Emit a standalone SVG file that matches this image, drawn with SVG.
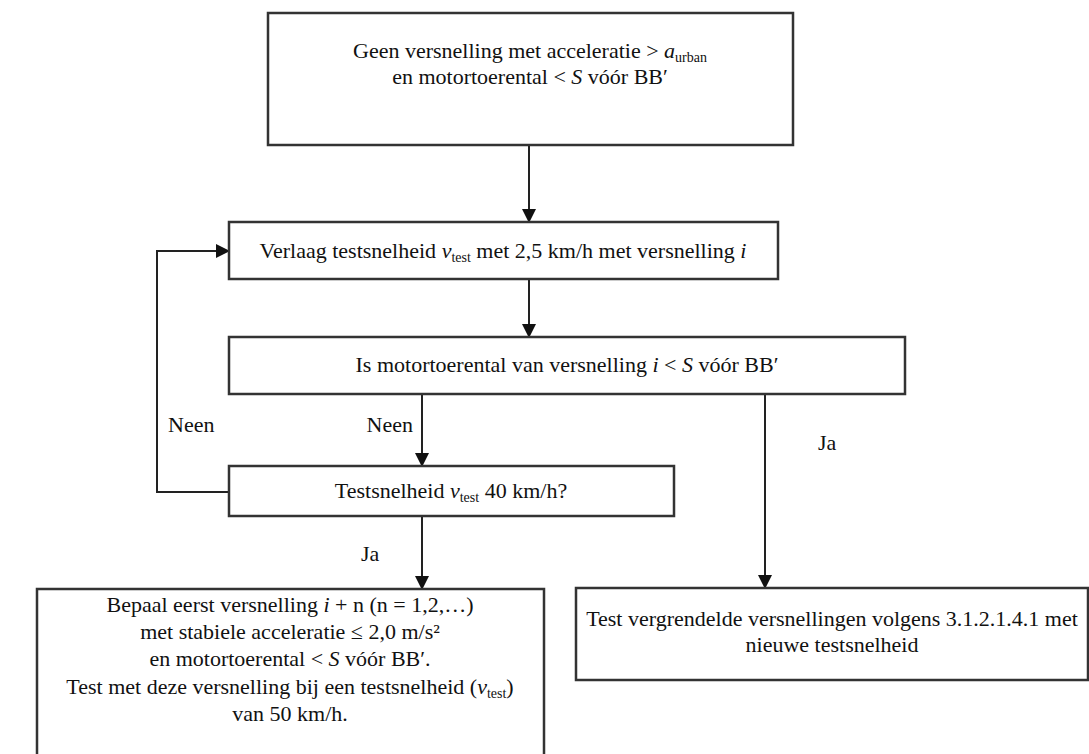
<svg xmlns="http://www.w3.org/2000/svg" width="1089" height="754" viewBox="0 0 1089 754">
<style>
.box{fill:#fff;stroke:#333;stroke-width:2.5}
.t{font-family:"Liberation Serif","Times New Roman",serif;font-size:22px;fill:#111}
.mid{text-anchor:middle}
.sub{font-size:14px}
.it{font-style:italic}
.ln{fill:none;stroke:#222;stroke-width:2}
</style>
<defs>
<marker id="ah" markerUnits="userSpaceOnUse" markerWidth="14" markerHeight="14" refX="13" refY="7" orient="auto">
<path d="M0,0 L14,7 L0,14 Z" fill="#111"/>
</marker>
</defs>
<g id="connectors">
<line class="ln" x1="529" y1="145" x2="529" y2="222" marker-end="url(#ah)"/>
<line class="ln" x1="529" y1="279" x2="529" y2="337" marker-end="url(#ah)"/>
<line class="ln" x1="422" y1="394" x2="422" y2="466" marker-end="url(#ah)"/>
<line class="ln" x1="422" y1="516" x2="422" y2="589" marker-end="url(#ah)"/>
<line class="ln" x1="765" y1="394" x2="765" y2="588" marker-end="url(#ah)"/>
<polyline class="ln" points="229,492 157,492 157,251 229,251" marker-end="url(#ah)"/>
<text class="t" x="413" y="432" text-anchor="end">Neen</text>
<text class="t" x="168" y="432">Neen</text>
<text class="t" x="361" y="561">Ja</text>
<text class="t" x="818" y="450">Ja</text>
</g>
<g id="n1">
<rect class="box" x="268" y="13" width="525" height="132"/>
<text class="t mid" x="530" y="58">Geen versnelling met acceleratie &gt; <tspan class="it">a</tspan><tspan class="sub" dy="4">urban</tspan></text>
<text class="t mid" x="530" y="84">en motortoerental &lt; <tspan class="it">S</tspan> vóór BB′</text>
</g>
<g id="n2">
<rect class="box" x="229" y="222" width="549" height="57"/>
<text class="t mid" x="503" y="258">Verlaag testsnelheid <tspan class="it">v</tspan><tspan class="sub" dy="4">test</tspan><tspan dy="-4"> met 2,5 km/h met versnelling </tspan><tspan class="it">i</tspan></text>
</g>
<g id="n3">
<rect class="box" x="229" y="337" width="676" height="57"/>
<text class="t mid" x="567" y="372">Is motortoerental van versnelling <tspan class="it">i</tspan> &lt; <tspan class="it">S</tspan> vóór BB′</text>
</g>
<g id="n4">
<rect class="box" x="229" y="466" width="445" height="50"/>
<text class="t mid" x="451" y="498">Testsnelheid <tspan class="it">v</tspan><tspan class="sub" dy="4">test</tspan><tspan dy="-4"> 40 km/h?</tspan></text>
</g>
<g id="n5">
<rect class="box" x="37" y="589" width="507" height="180"/>
<text class="t mid" x="290" y="612">Bepaal eerst versnelling <tspan class="it">i</tspan> + n (n = 1,2,…)</text>
<text class="t mid" x="290" y="639">met stabiele acceleratie ≤ 2,0 m/s²</text>
<text class="t mid" x="290" y="666">en motortoerental &lt; <tspan class="it">S</tspan> vóór BB′.</text>
<text class="t mid" x="290" y="694">Test met deze versnelling bij een testsnelheid (<tspan class="it">v</tspan><tspan class="sub" dy="4">test</tspan><tspan dy="-4">)</tspan></text>
<text class="t mid" x="290" y="721">van 50 km/h.</text>
</g>
<g id="n6">
<rect class="box" x="576" y="588" width="512" height="92"/>
<text class="t mid" x="832" y="626">Test vergrendelde versnellingen volgens 3.1.2.1.4.1 met</text>
<text class="t mid" x="832" y="652">nieuwe testsnelheid</text>
</g>
</svg>
